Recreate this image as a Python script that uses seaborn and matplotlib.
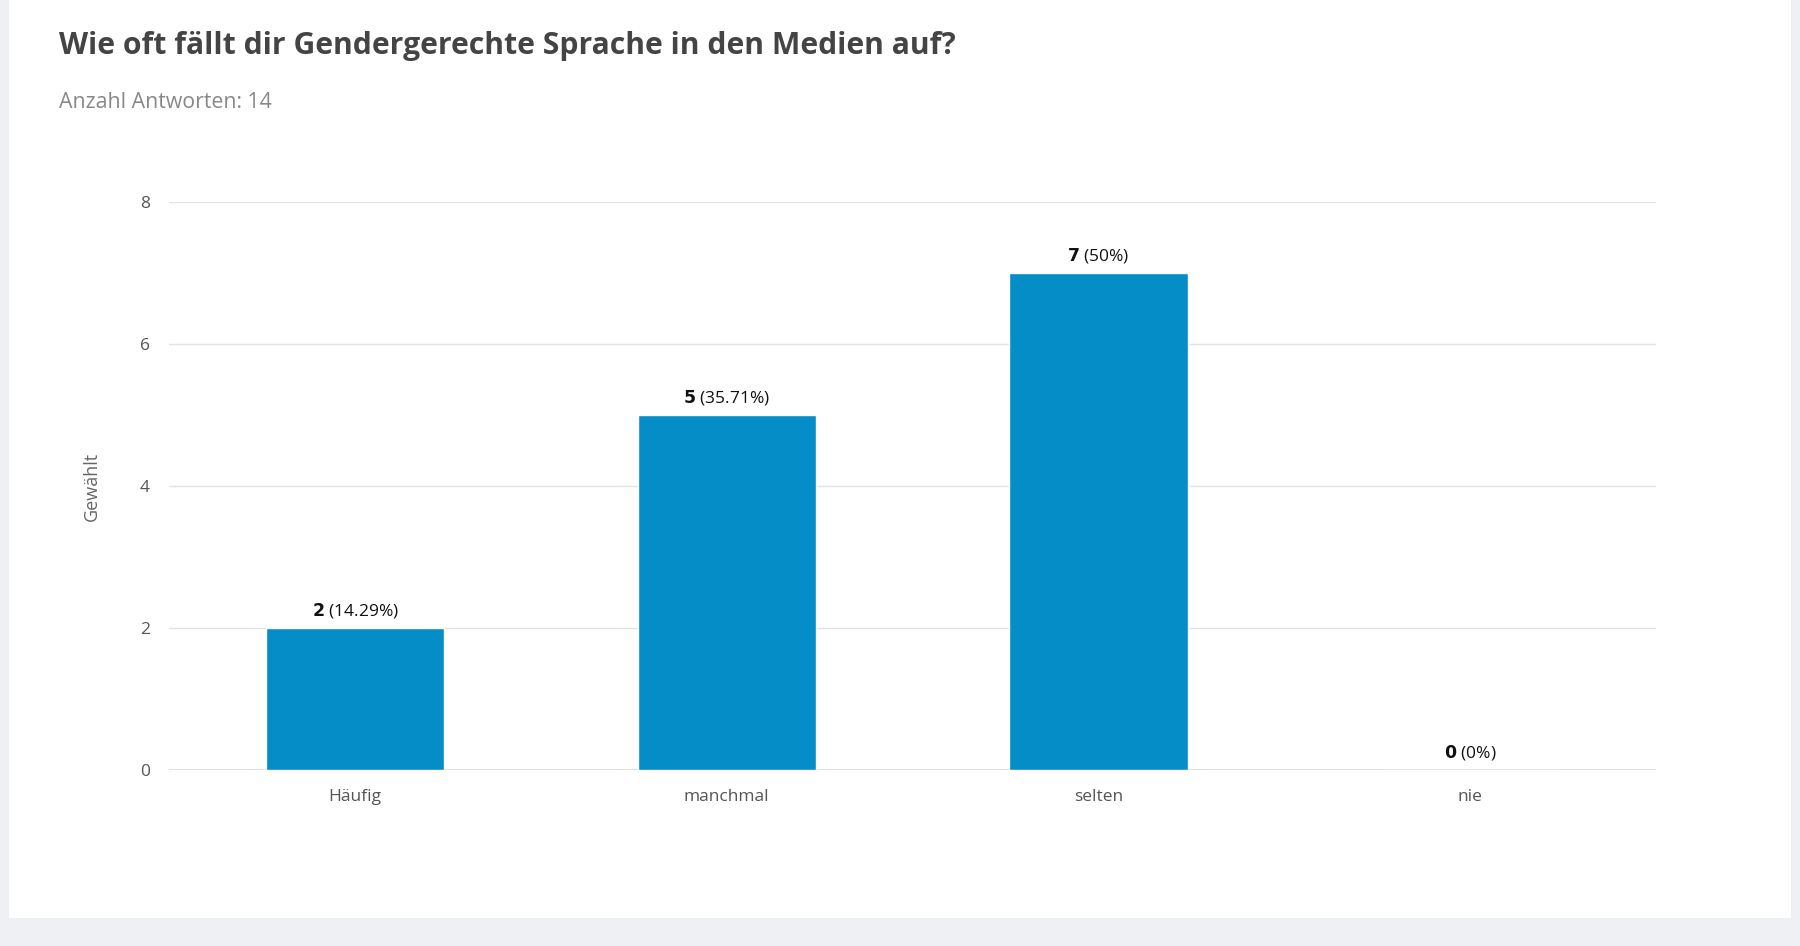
import matplotlib.pyplot as plt
import pandas as pd
import seaborn as sns
from matplotlib.patches import Rectangle

sns.set(style="white", rc={"figure.figsize": (18, 9.46)})
plt.rcParams["font.family"] = ["Open Sans", "DejaVu Sans"]

categories = ["Häufig", "manchmal", "selten", "nie"]
counts = [2, 5, 7, 0]
percents = ["14.29%", "35.71%", "50%", "0%"]


def draw_chart():
    fig = plt.figure(dpi=100)
    fig.patch.set_facecolor("#eef0f4")
    # white card behind the chart
    fig.patches.append(Rectangle((0.005, 0.03), 0.99, 0.97, transform=fig.transFigure,
                                 facecolor="white", edgecolor="none", zorder=-1))

    ax = fig.add_axes([0.094, 0.186, 0.826, 0.60])
    ax.set_zorder(2)
    ax.set_facecolor("none")
    df = pd.DataFrame({"cat": categories, "n": counts})
    sns.barplot(data=df, x="cat", y="n", color="#058dc7", saturation=1, width=0.48, ax=ax)

    ax.set_xlim(-0.5, 3.5)
    ax.set_ylim(0, 8)
    ax.set_yticks([0, 2, 4, 6, 8])
    ax.grid(axis="y", color="#e3e3e3", linewidth=1)
    ax.set_axisbelow(True)
    sns.despine(ax=ax, left=True, bottom=True)
    ax.axhline(0, color="#dcdcdc", linewidth=1.2, zorder=0.5)
    ax.tick_params(axis="both", length=0, colors="#555555", labelsize=12.5, pad=14)
    ax.set_xlabel("")
    ax.set_ylabel("Gewählt", fontsize=13, color="#666666", labelpad=28)

    # Add counts above the bars
    for index, data in enumerate(counts):
        ax.annotate(f"$\\bf{{{data}}}$ ({percents[index]})", (index, data),
                    xytext=(0, 6), textcoords="offset points", ha="center",
                    va="bottom", fontsize=12.5, color="#111111")

    fig.text(0.033, 0.951, "Wie oft fällt dir Gendergerechte Sprache in den Medien auf?",
             fontsize=21.7, fontweight="bold", color="#444444", va="center", zorder=3)
    fig.text(0.033, 0.892, "Anzahl Antworten: 14", fontsize=15.3, color="#888888",
             va="center", zorder=3)
    fig.savefig("out.png", facecolor=fig.get_facecolor())


def main():
    draw_chart()


if __name__ == "__main__":
    main()
